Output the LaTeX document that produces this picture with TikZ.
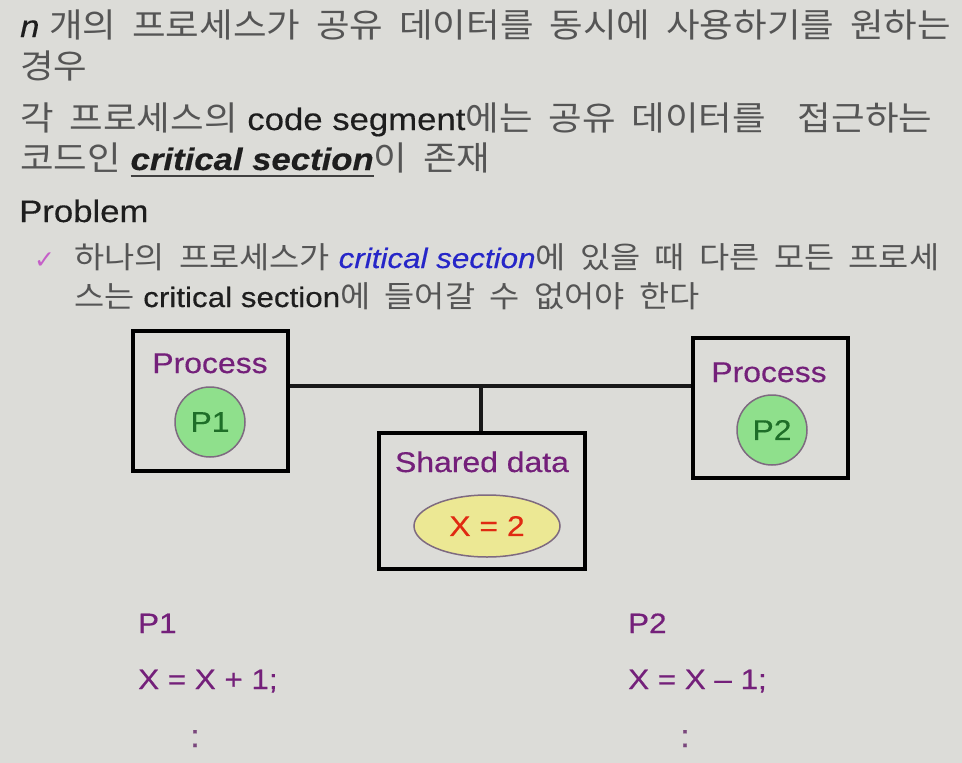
\documentclass[tikz,border=0pt]{standalone}
\usepackage{fontspec}
\setmainfont{Liberation Sans}[FakeStretch=1.12, FakeBold=0.4]
\newfontfamily\kr{Noto Sans CJK KR}[FakeStretch=1.09, WordSpace=1.95]
\newfontfamily\symfont{DejaVu Sans}
\usetikzlibrary{shapes.geometric}
\definecolor{bg}{HTML}{DCDCD8}
\definecolor{krgray}{HTML}{555555}
\definecolor{latdark}{HTML}{1E1E1E}
\definecolor{purp}{HTML}{74207A}
\definecolor{chkc}{HTML}{C55FC8}
\definecolor{bluet}{HTML}{2626C8}
\definecolor{gfill}{HTML}{8FE08C}
\definecolor{gtext}{HTML}{1E6E28}
\definecolor{yfill}{HTML}{ECE894}
\definecolor{rtext}{HTML}{E02A12}
\definecolor{edgec}{HTML}{7E6A80}
\newcommand{\K}[1]{{\kr\fontsize{33.5}{38}\selectfont\color{krgray}#1}}
\newcommand{\KK}[1]{{\kr\fontsize{30.1}{35}\selectfont\color{krgray}#1}}
\newcommand{\thickul}[1]{\setbox0\hbox{#1}\rlap{\color{latdark!85}\rule[-7pt]{\wd0}{2.4pt}}\box0}
\tikzset{
  lvlone/.style={anchor=base west, inner sep=0pt, text=latdark, font=\fontsize{31}{36}\selectfont},
  lvltwo/.style={anchor=base west, inner sep=0pt, text=latdark, font=\fontsize{28}{33}\selectfont},
  boxn/.style={draw=black, line width=3.6pt, minimum width=155pt, minimum height=140pt, inner sep=0pt},
  conn/.style={line width=3.4pt, draw=black!90},
  plabel/.style={anchor=base, inner sep=0pt, text=purp, font=\fontsize{28.5}{33}\selectfont},
  pcirc/.style={circle, draw=edgec, line width=1.5pt, fill=gfill, minimum size=70pt, inner sep=0pt, text=gtext, font=\fontsize{28.5}{33}\selectfont},
  code/.style={anchor=base west, inner sep=0pt, text=purp, font=\fontsize{28}{33}\selectfont},
  dots/.style={anchor=base, inner sep=0pt, text=purp!60!gray, font=\fontsize{32}{36}\selectfont},
}
\begin{document}
\begin{tikzpicture}[x=1pt,y=-1pt]
\fill[bg] (0,0) rectangle (962,763);
\useasboundingbox (0,0) rectangle (962,763);
% text lines
\node[lvlone] (t1) at (20,37) {\textit{n} \K{개의 프로세스가 공유 데이터를 동시에 사용하기를 원하는}};
\node[lvlone] (t2) at (20,78) {\K{경우}};
\node[lvlone] (t3) at (20,130) {\K{각 프로세스의} code segment\K{에는 공유 데이터를\ \ 접근하는}};
\node[lvlone] (t4) at (20,170) {\K{코드인} \thickul{\textbf{\textit{critical section}}}\K{이 존재}};
\node[lvlone] (t5) at (19,222) {Problem};
\node[anchor=base west, inner sep=0pt, text=chkc, font=\symfont\fontsize{25}{28}\selectfont] (ck) at (34,268) {✓};
\node[lvltwo] (t6) at (74,268) {\KK{하나의 프로세스가} \textcolor{bluet}{\textit{critical section}}\KK{에 있을 때 다른 모든 프로세}};
\node[lvltwo] (t7) at (74,307) {\KK{스는} critical section\KK{에 들어갈 수 없어야 한다}};
% boxes
\node[boxn] (b1) at (210.5,401) {};
\node[boxn] (b2) at (770.5,408) {};
\node[boxn, minimum width=206pt, minimum height=136pt] (b3) at (482,501) {};
\coordinate (j) at (481,386);
\draw[conn] (b1.east |- j) -- (b2.west |- j);
\draw[conn] (j) -- (b3.north -| j);
% contents
\node[plabel] (pl1) at (210,373) {Process};
\node[pcirc] (c1) at (210,422) {P1};
\node[plabel] (pl2) at (769,382) {Process};
\node[pcirc] (c2) at (772,430) {P2};
\node[plabel] (sd) at (482,472) {Shared data};
\node[ellipse, draw=edgec, line width=1.5pt, fill=yfill, minimum width=146pt, minimum height=62pt, inner sep=0pt, text=rtext, font=\fontsize{28.5}{33}\selectfont] (xv) at (487,526) {X = 2};
% code
\node[code] (cp1) at (138,633) {P1};
\node[code] (cx1) at (138,689) {X = X + 1;};
\node[dots] (d1) at (195,747) {:};
\node[code] (cp2) at (628,633) {P2};
\node[code] (cx2) at (628,689) {X = X – 1;};
\node[dots] (d2) at (685,747) {:};
\end{tikzpicture}
\end{document}
